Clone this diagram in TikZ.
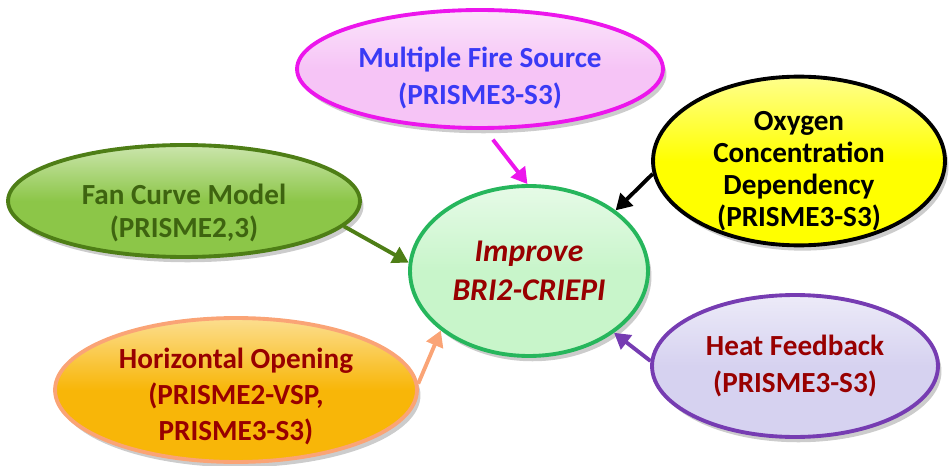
\documentclass[tikz,border=0pt]{standalone}
\usepackage{fontspec}
\setmainfont{Carlito}
\usepackage{tikz}
\usetikzlibrary{arrows.meta,shapes.geometric,shadows}
\definecolor{fireFill}{RGB}{246,196,246}
\definecolor{fireLine}{RGB}{236,22,236}
\definecolor{fireText}{RGB}{58,58,245}
\definecolor{fanFill}{RGB}{140,198,72}
\definecolor{fanLine}{RGB}{78,126,22}
\definecolor{fanText}{RGB}{62,100,16}
\definecolor{coreFill}{RGB}{200,245,202}
\definecolor{coreLine}{RGB}{38,182,92}
\definecolor{redText}{RGB}{152,0,0}
\definecolor{oxyFill}{RGB}{255,255,0}
\definecolor{holeFill}{RGB}{248,182,8}
\definecolor{holeLine}{RGB}{250,164,118}
\definecolor{heatFill}{RGB}{214,210,240}
\definecolor{heatLine}{RGB}{118,60,178}
\newcommand\toplift[1]{\rule{0pt}{#1}}
\tikzset{
	bubble/.style 2 args={ellipse, draw=#2, line width=2.2pt,
		top color=#1!45!white, bottom color=#1, middle color=#1,
		inner xsep=0pt, inner ysep=-6pt, align=center,
		font=\bfseries\fontsize{16.6}{21}\selectfont,
		drop shadow={opacity=.4, shadow xshift=2pt, shadow yshift=-3pt}},
	feed/.style={-{Triangle[length=9pt,width=10pt]}, line width=2.2pt, draw=#1},
}
\begin{document}
\begin{tikzpicture}[x=0.02cm, y=-0.02cm]
	\useasboundingbox (0,0) rectangle (950,466);
	\node[bubble={fireFill}{fireLine}, minimum width=7.32cm, minimum height=2.36cm, text=fireText]
		(fire) at (480,69) {\toplift{22pt}Multiple Fire Source\\(PRISME3-S3)};
	\node[bubble={fanFill}{fanLine}, minimum width=7.04cm, minimum height=2.24cm, text=fanText,
		font=\bfseries\fontsize{16.6}{18.5}\selectfont]
		(fan) at (184,201) {\toplift{25pt}Fan Curve Model\\(PRISME2,3)};
	\node[bubble={coreFill}{coreLine}, minimum width=4.76cm, minimum height=3.4cm, text=redText,
		font=\bfseries\itshape\fontsize{18}{22.5}\selectfont]
		(core) at (529,271) {Improve\\BRI2-CRIEPI};
	\node[bubble={oxyFill}{black}, minimum width=5.84cm, minimum height=3.24cm,
		font=\bfseries\fontsize{16.6}{18.3}\selectfont]
		(oxy) at (799,161) {\toplift{22.5pt}Oxygen\\Concentration\\Dependency\\(PRISME3-S3)};
	\node[bubble={holeFill}{holeLine}, minimum width=7.24cm, minimum height=2.88cm, text=redText,
		font=\bfseries\fontsize{16.6}{20.5}\selectfont]
		(hole) at (236,390) {\toplift{19pt}Horizontal Opening\\(PRISME2-VSP,\\PRISME3-S3)};
	\node[bubble={heatFill}{heatLine}, minimum width=5.72cm, minimum height=2.84cm, text=redText]
		(heat) at (795,366) {Heat Feedback\\(PRISME3-S3)};
	% arrows into the core
	\draw[feed=fireLine, shorten <=7pt] (fire.-85) -- (core.91);
	\draw[feed=black] (oxy.185) -- (core.35);
	\draw[feed=fanLine] (fan.-9) -- (core.176);
	\draw[feed=holeLine] (hole.2) -- (core.214);
	\draw[feed=heatLine] (heat.178) -- (core.-36);
\end{tikzpicture}
\end{document}
